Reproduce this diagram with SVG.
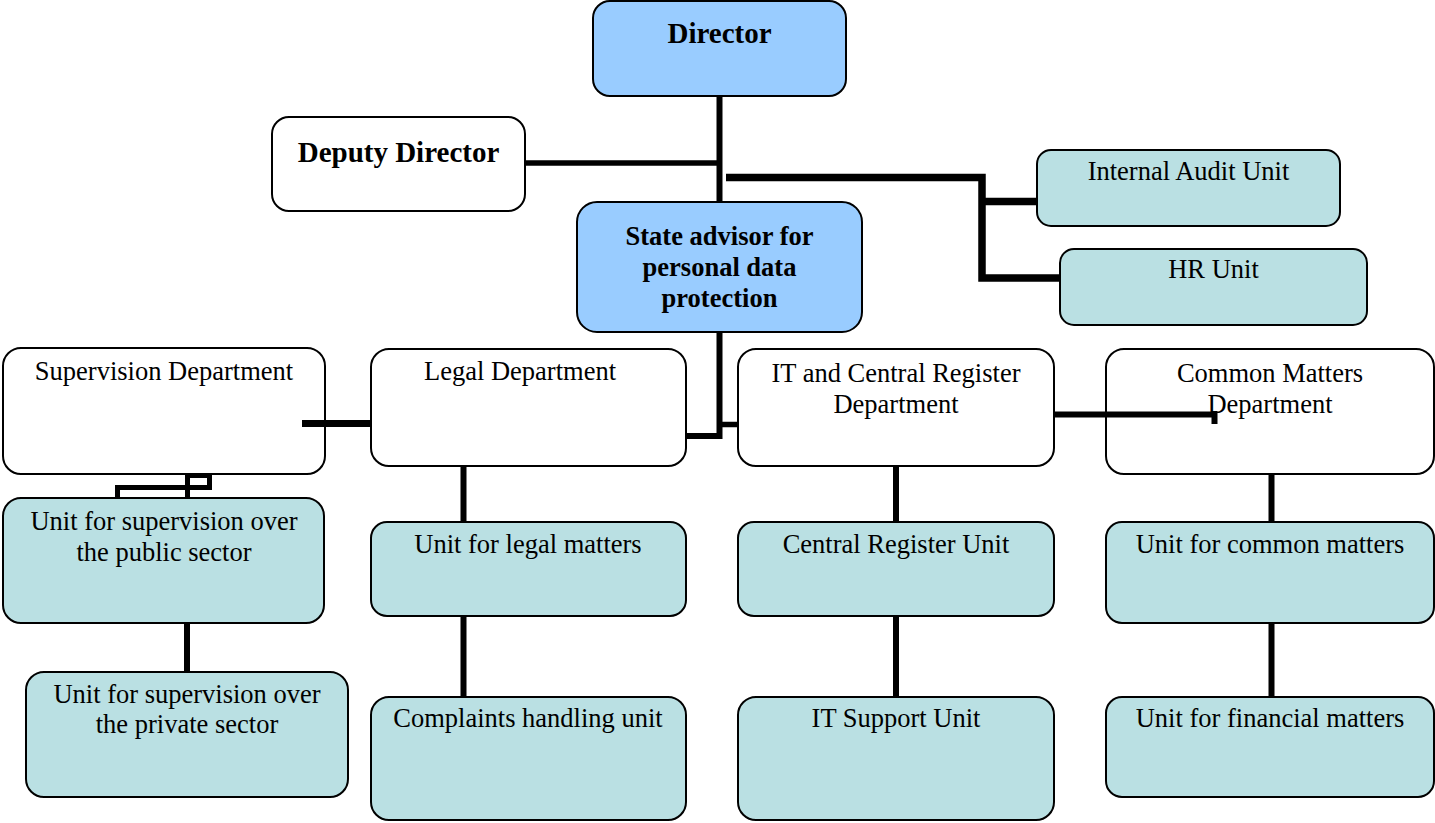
<svg xmlns="http://www.w3.org/2000/svg" width="1435" height="823" viewBox="0 0 1435 823">
<style>
.box{stroke:#000;stroke-width:2}
.blue{fill:#99CCFF}
.white{fill:#FFFFFF}
.teal{fill:#BAE0E3}
.t{font-family:"Liberation Serif","Times New Roman",serif;font-size:26.5px;fill:#000;text-anchor:middle}
.b{font-weight:bold}
.big{font-size:29px}
.c{fill:none;stroke:#000;stroke-linecap:butt;stroke-linejoin:miter}
</style>
<rect width="1435" height="823" fill="#fff"/>
<g id="director"><rect class="box blue" x="593" y="1" width="253" height="95" rx="17"/><text class="t b big" x="719.5" y="43">Director</text></g>
<g id="deputy"><rect class="box white" x="272" y="117" width="253" height="94" rx="17"/><text class="t b big" x="398.5" y="162">Deputy Director</text></g>
<g id="audit"><rect class="box teal" x="1037" y="150" width="303" height="76" rx="14"/><text class="t" x="1188.5" y="180">Internal Audit Unit</text></g>
<g id="hr"><rect class="box teal" x="1060" y="249" width="307" height="76" rx="14"/><text class="t" x="1213.5" y="278">HR Unit</text></g>
<g id="advisor"><rect class="box blue" x="577" y="202" width="285" height="130" rx="20"/><text class="t b" x="719.5" y="245">State advisor for</text><text class="t b" x="719.5" y="276">personal data</text><text class="t b" x="719.5" y="307">protection</text></g>
<g id="supervision"><rect class="box white" x="3" y="348" width="322" height="126" rx="18"/><text class="t" x="164" y="380">Supervision Department</text></g>
<g id="legal"><rect class="box white" x="371" y="349" width="315" height="117" rx="18"/><text class="t" x="520" y="380">Legal Department</text></g>
<g id="it"><rect class="box white" x="738" y="349" width="316" height="117" rx="18"/><text class="t" x="896" y="382">IT and Central Register</text><text class="t" x="896" y="413">Department</text></g>
<g id="common"><rect class="box white" x="1106" y="349" width="328" height="125" rx="18"/><text class="t" x="1270" y="382">Common Matters</text><text class="t" x="1270" y="413">Department</text></g>
<g id="public"><rect class="box teal" x="3" y="498" width="321" height="125" rx="18"/><text class="t" x="164" y="530">Unit for supervision over</text><text class="t" x="164" y="561">the public sector</text></g>
<g id="private"><rect class="box teal" x="26" y="672" width="322" height="125" rx="18"/><text class="t" x="187" y="703">Unit for supervision over</text><text class="t" x="187" y="733">the private sector</text></g>
<g id="legalunit"><rect class="box teal" x="371" y="522" width="315" height="94" rx="16"/><text class="t" x="528" y="553">Unit for legal matters</text></g>
<g id="complaints"><rect class="box teal" x="371" y="697" width="315" height="123" rx="18"/><text class="t" x="528" y="727">Complaints handling unit</text></g>
<g id="central"><rect class="box teal" x="738" y="522" width="316" height="94" rx="16"/><text class="t" x="896" y="553">Central Register Unit</text></g>
<g id="itsupport"><rect class="box teal" x="738" y="697" width="316" height="123" rx="18"/><text class="t" x="896" y="727">IT Support Unit</text></g>
<g id="commonunit"><rect class="box teal" x="1106" y="522" width="328" height="101" rx="16"/><text class="t" x="1270" y="553">Unit for common matters</text></g>
<g id="financial"><rect class="box teal" x="1106" y="697" width="328" height="100" rx="16"/><text class="t" x="1270" y="727">Unit for financial matters</text></g>
<g id="connectors">
<path class="c" stroke-width="6" d="M719.5,96 V202"/>
<path class="c" stroke-width="5.5" d="M525,163 H717"/>
<path class="c" stroke-width="7.5" d="M726,177.5 H982 V278 H1060"/>
<path class="c" stroke-width="7.5" d="M982,201.5 H1037"/>
<path class="c" stroke-width="6" d="M719.5,332 V436 H686"/>
<path class="c" stroke-width="5.5" d="M722,424.5 H738"/>
<path class="c" stroke-width="7" d="M302,423.5 H372"/>
<path class="c" stroke-width="6" d="M1054,414.5 H1217 M1214.5,411 V424"/>
<path class="c" stroke-width="5" d="M187.5,474 V498 M117.5,498 V487.5 H209.5 V475.5 H187.5"/>
<path class="c" stroke-width="6" d="M187,623 V672"/>
<path class="c" stroke-width="6" d="M463.5,466 V522 M463.5,616 V697"/>
<path class="c" stroke-width="6" d="M896,466 V522 M896,616 V697"/>
<path class="c" stroke-width="6" d="M1271.5,474 V522 M1271.5,623 V697"/>
</g>
</svg>
